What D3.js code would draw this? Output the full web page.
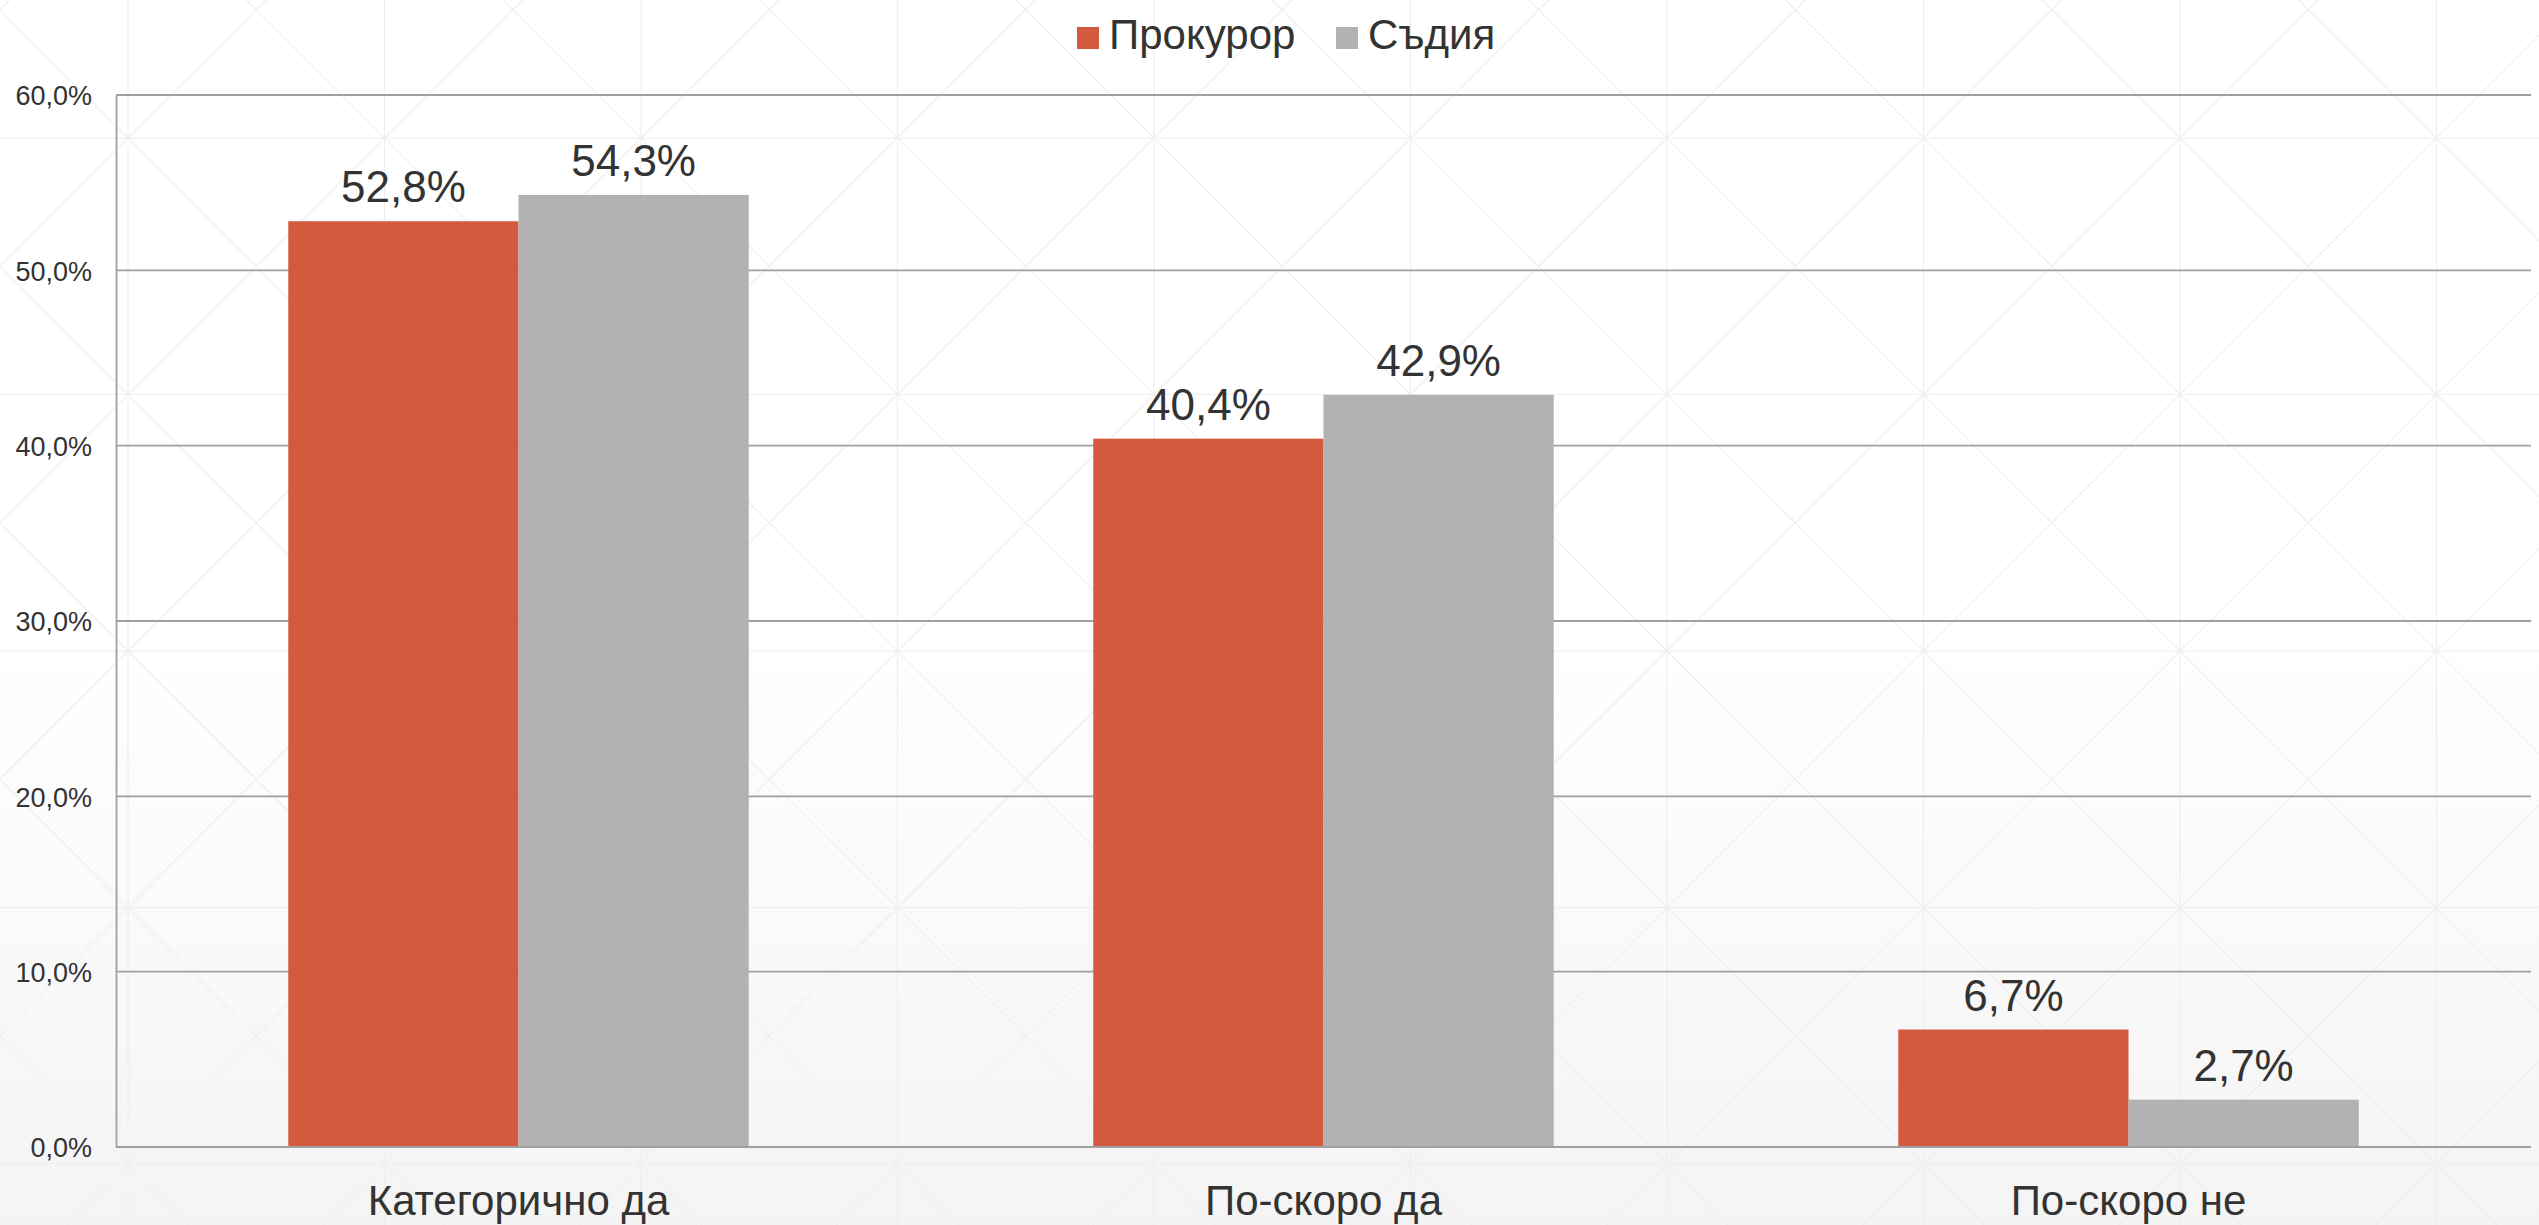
<!doctype html>
<html>
  <head>
    <meta charset="utf-8">
    <script src="https://cdn.jsdelivr.net/npm/d3@7"></script>
    <style>
    body {
      margin: 0;
      background: #fff;
    }

    .chart {
      font-family: 'Liberation Sans', Arial, sans-serif;
      display: block;
    }

    .tick text {
      font-size: 27px;
      fill: #333;
      font-family: 'Liberation Sans', Arial, sans-serif;
    }

    .bar-label {
      font-size: 44px;
      fill: #333;
    }

    .cat-label {
      font-size: 42px;
      fill: #333;
    }

    .legend-label {
      font-size: 42px;
      fill: #333;
    }
    </style>
  </head>

  <body>
    <svg class="chart"></svg>

  <script>

    const categories = ["Категорично да", "По-скоро да", "По-скоро не"]
    const seriesNames = ["Прокурор", "Съдия"]
    const prosecutor = [52.8, 40.4, 6.7]
    const judge = [54.3, 42.9, 2.7]
    const yTicks = [0, 10, 20, 30, 40, 50, 60]

    const W = 2539, H = 1225
    const margin = { left: 116, top: 95, right: 8, bottom: 78 }
    const width = W - margin.left - margin.right,
          height = H - margin.top - margin.bottom

    const red = "#d35a3e",
          grey = "#b2b2b2"
    const colors = [red, grey]

    const fmt = d => d3.format(".1f")(d).replace(".", ",") + "%"

    const svg = d3.select(".chart")
                  .attr("width", W)
                  .attr("height", H)

    // background: soft gradient + faint diamond lattice
    const defs = svg.append("defs")
    const grad = defs.append("linearGradient")
      .attr("id", "bg")
      .attr("x1", 0).attr("y1", 0).attr("x2", 0).attr("y2", 1)
    grad.append("stop").attr("offset", "0%").attr("stop-color", "#ffffff")
    grad.append("stop").attr("offset", "51%").attr("stop-color", "#ffffff")
    grad.append("stop").attr("offset", "100%").attr("stop-color", "#f4f4f4")

    svg.append("rect")
      .attr("width", W).attr("height", H)
      .attr("fill", "url(#bg)")

    const pattern = svg.append("g")
      .attr("stroke", "#eeeeee")
      .attr("stroke-width", 1.2)
      .attr("fill", "none")

    const cell = 256.5, ox = 128, oy = 138
    for (let k = -1; k < 11; k++) {
      pattern.append("line")
        .attr("x1", ox + k * cell).attr("x2", ox + k * cell)
        .attr("y1", 0).attr("y2", H)
    }
    for (let k = -1; k < 6; k++) {
      pattern.append("line")
        .attr("x1", 0).attr("x2", W)
        .attr("y1", oy + k * cell).attr("y2", oy + k * cell)
    }
    for (let k = -6; k < 16; k++) {
      let c = ox - oy + k * cell
      pattern.append("line")
        .attr("x1", c).attr("y1", 0).attr("x2", c + H).attr("y2", H)
      let s = ox + oy + k * cell
      pattern.append("line")
        .attr("x1", s).attr("y1", 0).attr("x2", s - H).attr("y2", H)
    }

    const chart = svg.append("g")
      .attr("transform", "translate(" + margin.left + "," + margin.top + ")")

    const xScale = d3.scaleBand()
                     .domain(categories)
                     .range([0, width])

    const bw = xScale.bandwidth()
    const groupW = bw * 0.572

    const x1 = d3.scaleBand()
                 .domain(seriesNames)
                 .range([(bw - groupW) / 2, (bw + groupW) / 2])

    const yScale = d3.scaleLinear()
                     .domain([0, 60])
                     .range([height, 0])

    // gridlines
    chart.append("g")
      .selectAll("line")
      .data(yTicks)
      .enter().append("line")
        .attr("x1", 0)
        .attr("x2", width)
        .attr("y1", d => yScale(d))
        .attr("y2", d => yScale(d))
        .attr("stroke", "#a0a0a0")
        .attr("stroke-width", 1.8)

    const yAxis = d3.axisLeft(yScale)
                    .tickValues(yTicks)
                    .tickFormat(fmt)
                    .tickSize(0)
                    .tickPadding(24)

    const yg = chart.append("g")
      .attr("id", "y-axis")
      .call(yAxis)
    yg.select(".domain")
      .attr("stroke", "#a0a0a0")
      .attr("stroke-width", 1.8)
    yg.selectAll(".tick text")
      .attr("dy", "0.36em")

    const data = categories.map((c, i) => ({ cat: c, values: [prosecutor[i], judge[i]] }))

    const groups = chart.selectAll(".group")
      .data(data)
      .enter().append("g")
        .attr("class", "group")
        .attr("transform", d => "translate(" + xScale(d.cat) + ",0)")

    groups.selectAll("rect")
      .data(d => d.values.map((v, i) => ({ name: seriesNames[i], v: v, i: i })))
      .enter().append("rect")
        .attr("x", d => x1(d.name))
        .attr("y", d => yScale(d.v))
        .attr("width", x1.bandwidth())
        .attr("height", d => height - yScale(d.v))
        .attr("fill", d => colors[d.i])

    groups.selectAll(".bar-label")
      .data(d => d.values.map((v, i) => ({ name: seriesNames[i], v: v })))
      .enter().append("text")
        .attr("class", "bar-label")
        .attr("text-anchor", "middle")
        .attr("x", d => x1(d.name) + x1.bandwidth() / 2)
        .attr("y", d => yScale(d.v) - 19)
        .text(d => fmt(d.v))

    // bottom axis line over bars
    chart.append("line")
      .attr("x1", 0).attr("x2", width)
      .attr("y1", height).attr("y2", height)
      .attr("stroke", "#a0a0a0")
      .attr("stroke-width", 1.8)

    chart.selectAll(".cat-label")
      .data(categories)
      .enter().append("text")
        .attr("class", "cat-label")
        .attr("text-anchor", "middle")
        .attr("x", d => xScale(d) + bw / 2)
        .attr("y", height + 68)
        .text(d => d)

    // legend
    const legendX = [1077, 1336]
    const legend = svg.append("g").attr("id", "legend")
    const items = legend.selectAll("g")
      .data(seriesNames)
      .enter().append("g")
        .attr("transform", (d, i) => "translate(" + legendX[i] + ",27)")
    items.append("rect")
      .attr("width", 22).attr("height", 22)
      .attr("fill", (d, i) => colors[i])
    items.append("text")
      .attr("class", "legend-label")
      .attr("x", 32)
      .attr("y", 22)
      .text(d => d)

  </script>
  </body>
</html>
